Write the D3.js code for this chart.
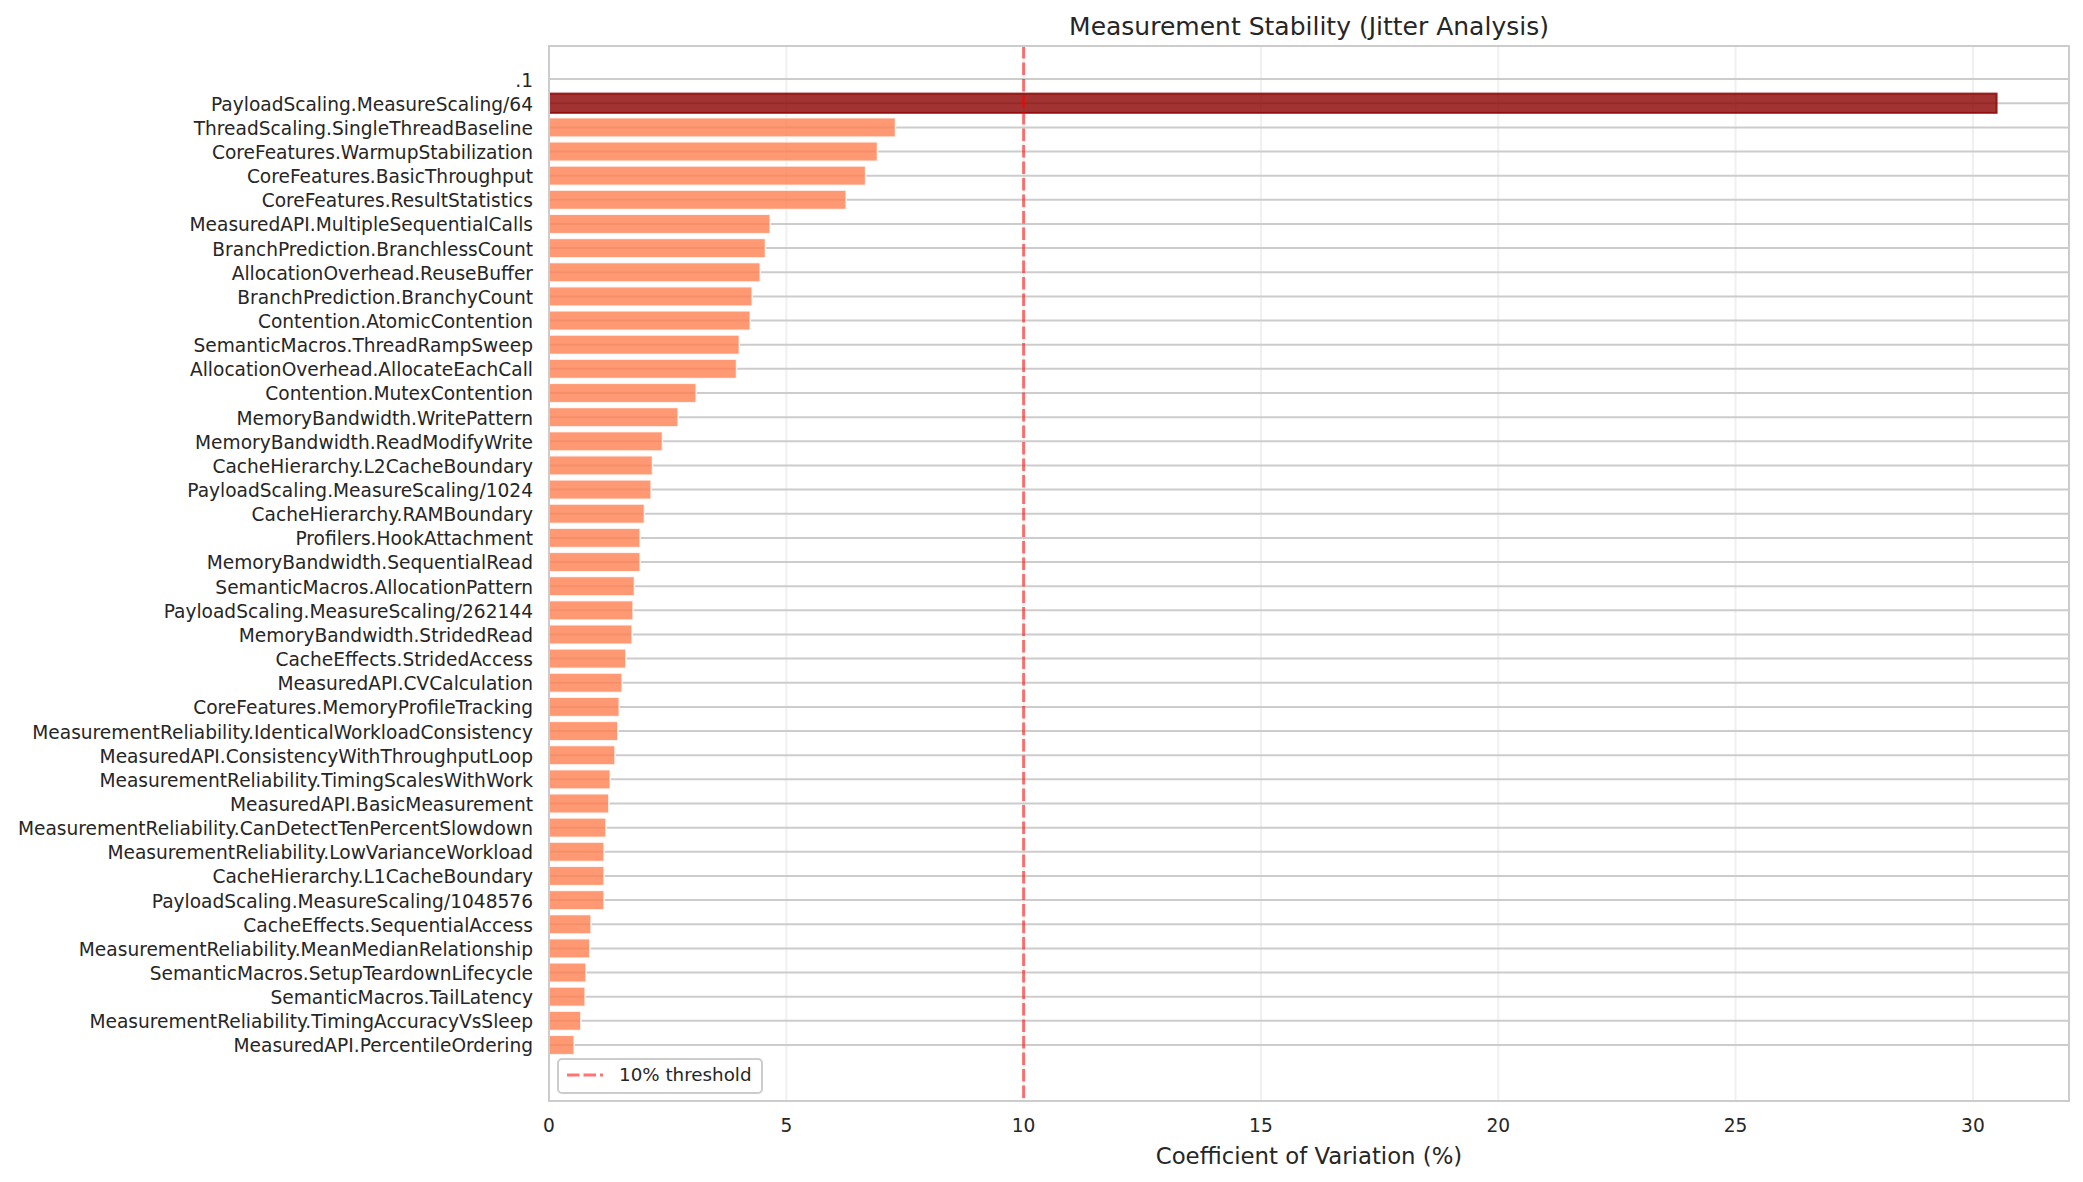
<!DOCTYPE html>
<html>
<head>
<meta charset="utf-8">
<script src="https://cdn.jsdelivr.net/npm/d3@7"></script>
<style>
  body { margin: 0; background: #fff; }
  svg { display: block; font-family: "DejaVu Sans", sans-serif; }
  .tick-label { fill: #262626; font-size: 18.6px; }
  .legend-label { fill: #262626; font-size: 18.3px; }
  .axis-title { fill: #262626; font-size: 22.8px; }
  .chart-title { fill: #262626; font-size: 25px; }
</style>
</head>
<body>
<div id="chart"></div>
<script>
const benchmarks = [
  ".1",
  "PayloadScaling.MeasureScaling/64",
  "ThreadScaling.SingleThreadBaseline",
  "CoreFeatures.WarmupStabilization",
  "CoreFeatures.BasicThroughput",
  "CoreFeatures.ResultStatistics",
  "MeasuredAPI.MultipleSequentialCalls",
  "BranchPrediction.BranchlessCount",
  "AllocationOverhead.ReuseBuffer",
  "BranchPrediction.BranchyCount",
  "Contention.AtomicContention",
  "SemanticMacros.ThreadRampSweep",
  "AllocationOverhead.AllocateEachCall",
  "Contention.MutexContention",
  "MemoryBandwidth.WritePattern",
  "MemoryBandwidth.ReadModifyWrite",
  "CacheHierarchy.L2CacheBoundary",
  "PayloadScaling.MeasureScaling/1024",
  "CacheHierarchy.RAMBoundary",
  "Profilers.HookAttachment",
  "MemoryBandwidth.SequentialRead",
  "SemanticMacros.AllocationPattern",
  "PayloadScaling.MeasureScaling/262144",
  "MemoryBandwidth.StridedRead",
  "CacheEffects.StridedAccess",
  "MeasuredAPI.CVCalculation",
  "CoreFeatures.MemoryProfileTracking",
  "MeasurementReliability.IdenticalWorkloadConsistency",
  "MeasuredAPI.ConsistencyWithThroughputLoop",
  "MeasurementReliability.TimingScalesWithWork",
  "MeasuredAPI.BasicMeasurement",
  "MeasurementReliability.CanDetectTenPercentSlowdown",
  "MeasurementReliability.LowVarianceWorkload",
  "CacheHierarchy.L1CacheBoundary",
  "PayloadScaling.MeasureScaling/1048576",
  "CacheEffects.SequentialAccess",
  "MeasurementReliability.MeanMedianRelationship",
  "SemanticMacros.SetupTeardownLifecycle",
  "SemanticMacros.TailLatency",
  "MeasurementReliability.TimingAccuracyVsSleep",
  "MeasuredAPI.PercentileOrdering",
];

// coefficient of variation, %
const cvValues = [
  0, 30.5, 7.3, 6.92, 6.67, 6.26, 4.66, 4.56, 4.45, 4.28, 4.24, 4.01, 3.95,
  3.1, 2.72, 2.39, 2.18, 2.15, 2.01, 1.92, 1.92, 1.8, 1.77, 1.75, 1.62, 1.54,
  1.48, 1.45, 1.39, 1.29, 1.26, 1.2, 1.16, 1.16, 1.16, 0.885, 0.86, 0.78,
  0.76, 0.67, 0.53,
];

const xTicks = [0, 5, 10, 15, 20, 25, 30];
const threshold = 10;
const highlighted = "PayloadScaling.MeasureScaling/64";

class StabilityChart {
  constructor({ el }) {
    this.el = el;
    this.init();
  }

  init() {
    this.width = 2083;
    this.height = 1182;
    this.margin = { top: 46, right: 14, bottom: 81, left: 549 };
    this.data = benchmarks.map((name, i) => ({ name, i, cv: cvValues[i] }));

    this.x = d3
      .scaleLinear()
      .domain([0, d3.max(cvValues) * 1.05])
      .range([this.margin.left, this.width - this.margin.right]);

    // row index -> center; extra room below for the legend
    this.y = d3
      .scaleLinear()
      .domain([-1.37, benchmarks.length - 1 + 2.32])
      .range([this.margin.top, this.height - this.margin.bottom]);
    this.step = this.y(1) - this.y(0);

    this.svg = d3
      .select(this.el)
      .append("svg")
      .attr("width", this.width)
      .attr("height", this.height);

    this.render();
  }

  render() {
    const { x, y, svg, margin } = this;
    const x0 = x.range()[0],
      x1 = x.range()[1];
    const y0 = margin.top,
      y1 = this.height - margin.bottom;
    const dash = "12.5,4";

    // grid
    svg
      .append("g")
      .selectAll("line")
      .data(xTicks)
      .join("line")
      .attr("x1", x)
      .attr("x2", x)
      .attr("y1", y0)
      .attr("y2", y1)
      .attr("stroke", "#cccccc")
      .attr("stroke-opacity", 0.3)
      .attr("stroke-width", 2);
    svg
      .append("g")
      .selectAll("line")
      .data(this.data)
      .join("line")
      .attr("x1", x0)
      .attr("x2", x1)
      .attr("y1", (d) => y(d.i))
      .attr("y2", (d) => y(d.i))
      .attr("stroke", "#cccccc")
      .attr("stroke-width", 2);

    // bars
    const barH = this.step * 0.8;
    svg
      .append("g")
      .selectAll("rect")
      .data(this.data.filter((d) => d.cv > 0))
      .join("rect")
      .attr("x", x(0))
      .attr("y", (d) => y(d.i) - barH / 2)
      .attr("width", (d) => x(d.cv) - x(0))
      .attr("height", barH)
      .attr("fill", (d) => (d.name === highlighted ? "darkred" : "coral"))
      .attr("fill-opacity", 0.8)
      .attr("stroke", (d) => (d.name === highlighted ? "darkred" : "white"))
      .attr("stroke-opacity", 0.8)
      .attr("stroke-width", (d) => (d.name === highlighted ? 2 : 1.5));

    // threshold
    svg
      .append("line")
      .attr("x1", x(threshold))
      .attr("x2", x(threshold))
      .attr("y1", y0)
      .attr("y2", y1)
      .attr("stroke", "red")
      .attr("stroke-opacity", 0.55)
      .attr("stroke-width", 3)
      .attr("stroke-dasharray", dash);

    // frame
    svg
      .append("rect")
      .attr("x", x0)
      .attr("y", y0)
      .attr("width", x1 - x0)
      .attr("height", y1 - y0)
      .attr("fill", "none")
      .attr("stroke", "#cccccc")
      .attr("stroke-width", 2);

    // y labels
    svg
      .append("g")
      .selectAll("text")
      .data(this.data)
      .join("text")
      .attr("class", "tick-label")
      .attr("x", x0 - 16)
      .attr("y", (d) => y(d.i))
      .attr("dy", "0.4em")
      .attr("text-anchor", "end")
      .text((d) => d.name);

    // x labels
    svg
      .append("g")
      .selectAll("text")
      .data(xTicks)
      .join("text")
      .attr("class", "tick-label")
      .attr("x", x)
      .attr("y", y1 + 31)
      .attr("text-anchor", "middle")
      .text((d) => d);

    svg
      .append("text")
      .attr("class", "axis-title")
      .attr("x", (x0 + x1) / 2)
      .attr("y", y1 + 63)
      .attr("text-anchor", "middle")
      .text("Coefficient of Variation (%)");

    svg
      .append("text")
      .attr("class", "chart-title")
      .attr("x", (x0 + x1) / 2)
      .attr("y", y0 - 11)
      .attr("text-anchor", "middle")
      .text("Measurement Stability (Jitter Analysis)");

    // legend
    const lg = svg
      .append("g")
      .attr("transform", `translate(${x0 + 9},${y1 - 42})`);
    lg.append("rect")
      .attr("width", 204)
      .attr("height", 34)
      .attr("rx", 4)
      .attr("fill", "white")
      .attr("fill-opacity", 0.8)
      .attr("stroke", "#cccccc")
      .attr("stroke-width", 2);
    lg.append("line")
      .attr("x1", 9)
      .attr("x2", 45)
      .attr("y1", 16)
      .attr("y2", 16)
      .attr("stroke", "red")
      .attr("stroke-opacity", 0.55)
      .attr("stroke-width", 3)
      .attr("stroke-dasharray", dash);
    lg.append("text")
      .attr("class", "legend-label")
      .attr("x", 61)
      .attr("y", 16)
      .attr("dy", "0.35em")
      .text("10% threshold");
  }
}

new StabilityChart({ el: document.getElementById("chart") });
</script>
</body>
</html>
